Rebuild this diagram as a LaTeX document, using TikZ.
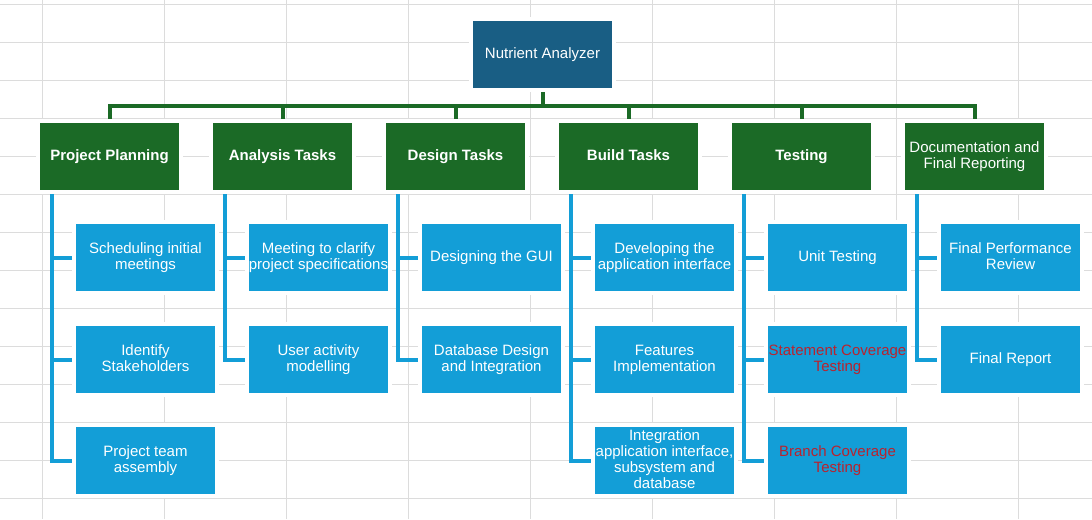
\documentclass[tikz,border=0pt]{standalone}
\usepackage{fontspec}
\setmainfont{Liberation Sans}
\pgfdeclarelayer{grid}
\pgfdeclarelayer{bg}
\pgfsetlayers{grid,bg,main}
\definecolor{rootc}{HTML}{195E84}
\definecolor{greenc}{HTML}{1B6A26}
\definecolor{bluec}{HTML}{139ED7}
\definecolor{gridc}{HTML}{DCDCDC}
\definecolor{redtxt}{HTML}{B8232F}
\begin{document}
\begin{tikzpicture}[x=0.75pt,y=-0.75pt,
  basefont/.style={font=\fontsize{11.25}{12}\selectfont},
  box/.style={basefont, minimum width=139*0.75pt, minimum height=67*0.75pt,
    inner sep=0pt, align=center, text=white,
    execute at begin node={\vphantom{A}},
    execute at end node={\vphantom{g}},
    preaction={draw=white, line width=6pt}},
  rootbox/.style={box, fill=rootc},
  phase/.style={box, fill=greenc, font=\fontsize{11.25}{12}\selectfont\bfseries},
  phaseplain/.style={box, fill=greenc},
  task/.style={box, fill=bluec},
  redtask/.style={task, text=redtxt},
  greenline/.style={draw=greenc, line width=3pt},
  blueline/.style={draw=bluec, line width=3pt},
  gridline/.style={draw=gridc, line width=0.75pt}]
\useasboundingbox (0,0) rectangle (1092,519);

% nodes
\node[rootbox] (root) at (542.5,54.5) {Nutrient Analyzer};

\node[phase] (p1) at (109.5,156.5) {Project Planning};
\node[phase] (p2) at (282.5,156.5) {Analysis Tasks};
\node[phase] (p3) at (455.5,156.5) {Design Tasks};
\node[phase] (p4) at (628.5,156.5) {Build Tasks};
\node[phase] (p5) at (801.5,156.5) {Testing};
\node[phaseplain] (p6) at (974.5,156.5) {Documentation and\\Final Reporting};

\node[task] (c11) at (145.5,257.5) {Scheduling initial\\meetings};
\node[task] (c12) at (145.5,359.5) {Identify\\Stakeholders};
\node[task] (c13) at (145.5,460.5) {Project team\\assembly};

\node[task] (c21) at (318.5,257.5) {Meeting to clarify\\project specifications};
\node[task] (c22) at (318.5,359.5) {User activity\\modelling};

\node[task] (c31) at (491.5,257.5) {Designing the GUI};
\node[task] (c32) at (491.5,359.5) {Database Design\\and Integration};

\node[task] (c41) at (664.5,257.5) {Developing the\\application interface};
\node[task] (c42) at (664.5,359.5) {Features\\Implementation};
\node[task] (c43) at (664.5,460.5) {Integration\\application interface,\\subsystem and\\database};

\node[task] (c51) at (837.5,257.5) {Unit Testing};
\node[redtask] (c52) at (837.5,359.5) {Statement Coverage\\Testing};
\node[redtask] (c53) at (837.5,460.5) {Branch Coverage\\Testing};

\node[task] (c61) at (1010.5,257.5) {Final Performance\\Review};
\node[task] (c62) at (1010.5,359.5) {Final Report};

\coordinate (busy) at (0,106);

% background and grid
\begin{pgfonlayer}{grid}
\fill[white] (0,0) rectangle (1092,519);
\foreach \gx in {42,164,...,1018} \draw[gridline] (\gx,0) -- (\gx,519);
\foreach \gy in {4,42,...,498} \draw[gridline] (0,\gy) -- (1092,\gy);
\end{pgfonlayer}

% connectors
\begin{pgfonlayer}{bg}
\draw[greenline] (root.south) -- (root.south |- busy);
\foreach \p in {p1,p2,p3,p4,p5,p6}
  \draw[greenline] (\p.north) |- (root.south |- busy);
\foreach \p/\c in {p1/c11,p1/c12,p1/c13,p2/c21,p2/c22,p3/c31,p3/c32,
                   p4/c41,p4/c42,p4/c43,p5/c51,p5/c52,p5/c53,p6/c61,p6/c62}
  \draw[blueline] ([xshift=9pt]\p.south west) |- (\c.west);
\end{pgfonlayer}
\end{tikzpicture}
\end{document}
